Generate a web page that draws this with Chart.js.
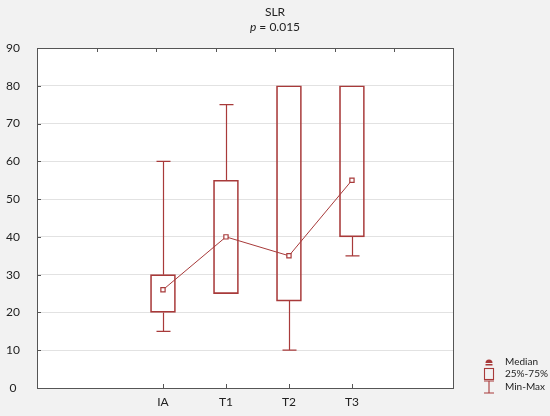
<!DOCTYPE html>
<html>
<head>
<meta charset="utf-8">
<script src="https://cdn.jsdelivr.net/npm/chart.js@4/dist/chart.umd.min.js"></script>
<style>
html,body{margin:0;padding:0;background:#f2f2f2;}
#wrap{position:relative;width:550px;height:416px;}
#title{position:absolute;left:0;top:4px;width:550px;text-align:center;font:12px Lato,sans-serif;line-height:15px;color:#222;}
</style>
</head>
<body>
<div id="wrap">
<canvas id="c" width="550" height="416"></canvas>
<div id="title">SLR<br><i>p</i> = 0.015</div>
</div>
<script>
// box plot data
const categories = ['IA', 'T1', 'T2', 'T3'];
const catPos = [2, 3, 4, 5];
const mins = [15, 25, 10, 35];
const q1s = [20, 25, 23, 40];
const medians = [26, 40, 35, 55];
const q3s = [30, 55, 80, 80];
const maxs = [60, 75, 80, 80];
const yTicks = [0, 10, 20, 30, 40, 50, 60, 70, 80, 90];
const legendLabels = ['Median', '25%-75%', 'Min-Max'];

const red = '#a83a3a';
const font = 'Lato, sans-serif';

const boxPlugin = {
  id: 'boxStuff',
  beforeDraw(chart) {
    const {ctx, chartArea: a} = chart;
    ctx.save();
    ctx.fillStyle = '#fff';
    ctx.fillRect(a.left, a.top, a.right - a.left, a.bottom - a.top);
    ctx.restore();
  },
  beforeDatasetsDraw(chart) {
    // whiskers
    const {ctx, scales: {x, y}} = chart;
    ctx.save();
    ctx.strokeStyle = red;
    ctx.lineWidth = 1.2;
    catPos.forEach((p, i) => {
      const px = Math.round(x.getPixelForValue(p)) + 0.5;
      ctx.beginPath();
      if (mins[i] < q1s[i]) {
        const y0 = y.getPixelForValue(mins[i]);
        ctx.moveTo(px, y.getPixelForValue(q1s[i]));
        ctx.lineTo(px, y0);
        ctx.moveTo(px - 7, y0);
        ctx.lineTo(px + 7, y0);
      }
      if (maxs[i] > q3s[i]) {
        const y1 = y.getPixelForValue(maxs[i]);
        ctx.moveTo(px, y.getPixelForValue(q3s[i]));
        ctx.lineTo(px, y1);
        ctx.moveTo(px - 7, y1);
        ctx.lineTo(px + 7, y1);
      }
      ctx.stroke();
    });
    ctx.restore();
  },
  afterDraw(chart) {
    const {ctx, chartArea: a, scales: {x, y}} = chart;
    ctx.save();
    // frame
    ctx.strokeStyle = '#555';
    ctx.lineWidth = 1;
    ctx.strokeRect(a.left + 0.5, a.top + 0.5, a.right - a.left - 1, a.bottom - a.top);
    // inner ticks
    ctx.beginPath();
    yTicks.forEach(v => {
      const py = Math.round(y.getPixelForValue(v)) + 0.5;
      ctx.moveTo(a.left, py); ctx.lineTo(a.left + 4, py);
    });
    catPos.forEach(p => {
      const px = Math.round(x.getPixelForValue(p)) + 0.5;
      ctx.moveTo(px, a.bottom); ctx.lineTo(px, a.bottom - 4);
    });
    for (let i = 1; i < 7; i++) {
      const px = Math.round(a.left + i * (a.right - a.left) / 7) + 0.5;
      ctx.moveTo(px, a.top); ctx.lineTo(px, a.top + 4);
    }
    ctx.stroke();

    // legend
    const sx = a.right + 35, tx = a.right + 51;
    const rows = [a.bottom - 26, a.bottom - 14, a.bottom - 1];
    ctx.strokeStyle = red;
    ctx.lineWidth = 1.1;
    ctx.fillStyle = red;
    ctx.beginPath();
    ctx.arc(sx, rows[0] + 1, 3.5, Math.PI, 0);
    ctx.fill();
    ctx.fillRect(sx - 3.5, rows[0] + 2, 7, 1.5);
    ctx.strokeRect(sx - 4.5, rows[1] - 5.5, 9, 11);
    ctx.beginPath();
    ctx.moveTo(sx - 5, rows[2] - 6); ctx.lineTo(sx + 5, rows[2] - 6);
    ctx.moveTo(sx, rows[2] - 6); ctx.lineTo(sx, rows[2] + 6);
    ctx.moveTo(sx - 5, rows[2] + 6); ctx.lineTo(sx + 5, rows[2] + 6);
    ctx.stroke();
    ctx.fillStyle = '#222';
    ctx.font = '10px ' + font;
    ctx.textBaseline = 'middle';
    legendLabels.forEach((t, i) => ctx.fillText(t, tx, rows[i]));
    ctx.restore();
  }
};

new Chart(document.getElementById('c'), {
  data: {
    datasets: [
      {
        type: 'line',
        label: 'Median',
        data: catPos.map((p, i) => ({x: p, y: medians[i]})),
        borderColor: red,
        borderWidth: 1,
        pointStyle: 'rect',
        pointRadius: 3,
        pointBackgroundColor: '#fff',
        pointBorderColor: red,
        pointBorderWidth: 1.2,
        order: 0
      },
      {
        type: 'bar',
        label: '25%-75%',
        data: catPos.map((p, i) => ({x: p, y: [q1s[i], q3s[i]]})),
        backgroundColor: 'rgba(255,255,255,0)',
        borderColor: red,
        borderWidth: 1,
        borderSkipped: false,
        barThickness: 25,
        order: 1
      }
    ]
  },
  options: {
    responsive: false,
    animation: false,
    layout: {padding: {top: 48, right: 96, left: 0, bottom: 0}},
    plugins: {legend: {display: false}, tooltip: {enabled: false}},
    scales: {
      x: {
        type: 'linear',
        min: 0,
        max: 6.62,
        offset: false,
        afterBuildTicks: s => { s.ticks = catPos.map(v => ({value: v})); },
        afterFit: s => { s.height = 28; },
        grid: {display: false, drawTicks: false, offset: false},
        border: {display: false},
        ticks: {
          padding: 7,
          color: '#222',
          font: {family: font, size: 12},
          callback: v => categories[catPos.indexOf(v)] ?? ''
        }
      },
      y: {
        min: 0,
        max: 90,
        afterBuildTicks: s => { s.ticks = yTicks.map(v => ({value: v})); },
        afterFit: s => { s.width = 37; },
        grid: {color: '#e2e2e2', drawTicks: false},
        border: {display: false},
        ticks: {
          padding: 17,
          crossAlign: 'center',
          color: '#222',
          font: {family: font, size: 12}
        }
      }
    }
  },
  plugins: [boxPlugin]
});
</script>
</body>
</html>
